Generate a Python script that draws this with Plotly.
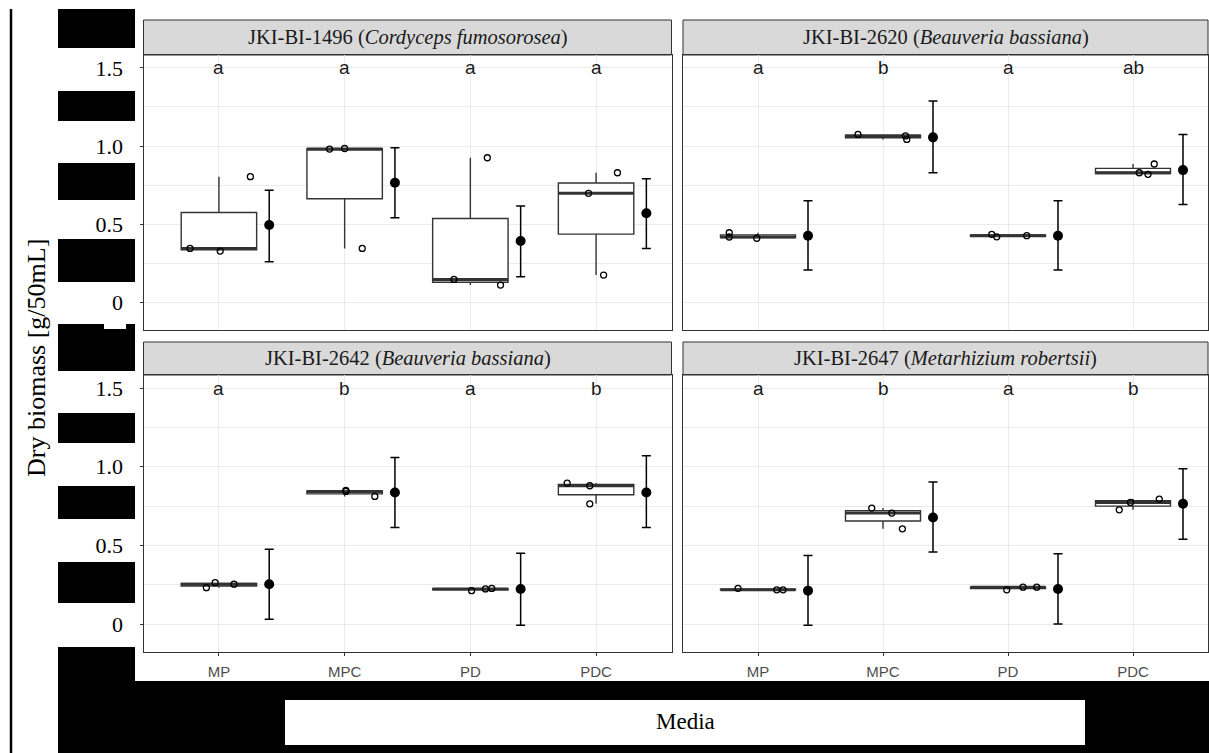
import numpy as np
import plotly.graph_objects as go

W, H = 1209, 753

media = ["MP", "MPC", "PD", "PDC"]
strain_ids = ["JKI-BI-1496", "JKI-BI-2620", "JKI-BI-2642", "JKI-BI-2647"]
species = ["Cordyceps fumosorosea", "Beauveria bassiana",
           "Beauveria bassiana", "Metarhizium robertsii"]

# dry biomass of the three replicate flasks per medium [g/50mL]
biomass_1496 = [[0.347, 0.330, 0.805], [0.981, 0.985, 0.347],
                [0.149, 0.113, 0.926], [0.699, 0.830, 0.177]]
biomass_2620 = [[0.447, 0.420, 0.412], [1.075, 1.065, 1.043],
                [0.437, 0.421, 0.428], [0.830, 0.820, 0.886]]
biomass_2642 = [[0.231, 0.263, 0.253], [0.849, 0.843, 0.811],
                [0.212, 0.223, 0.226], [0.896, 0.879, 0.764]]
biomass_2647 = [[0.227, 0.217, 0.217], [0.737, 0.705, 0.605],
                [0.217, 0.234, 0.234], [0.726, 0.773, 0.794]]

# horizontal jitter of the replicate points (category units)
jitter_1496 = [[-0.23, 0.01, 0.25], [-0.12, 0.00, 0.14],
               [-0.13, 0.24, 0.135], [-0.06, 0.17, 0.06]]
jitter_2620 = [[-0.23, -0.23, -0.01], [-0.20, 0.18, 0.19],
               [-0.13, -0.09, 0.15], [0.05, 0.12, 0.17]]
jitter_2642 = [[-0.10, -0.03, 0.12], [0.01, 0.01, 0.24],
               [0.01, 0.12, 0.17], [-0.23, -0.05, -0.05]]
jitter_2647 = [[-0.16, 0.15, 0.20], [-0.09, 0.07, 0.155],
               [-0.01, 0.12, 0.23], [-0.11, -0.02, 0.21]]

# estimated means with lower / upper confidence limits
mean_1496 = [0.496, 0.766, 0.394, 0.571]
lower_1496 = [0.262, 0.543, 0.166, 0.347]
upper_1496 = [0.718, 0.990, 0.617, 0.792]
mean_2620 = [0.428, 1.056, 0.428, 0.847]
lower_2620 = [0.209, 0.830, 0.209, 0.628]
upper_2620 = [0.651, 1.288, 0.651, 1.075]
mean_2642 = [0.253, 0.836, 0.223, 0.836]
lower_2642 = [0.030, 0.613, -0.008, 0.613]
upper_2642 = [0.476, 1.059, 0.450, 1.070]
mean_2647 = [0.212, 0.677, 0.223, 0.764]
lower_2647 = [-0.008, 0.457, 0.000, 0.539]
upper_2647 = [0.435, 0.902, 0.446, 0.987]

# compact letter display
letters_1496 = ["a", "a", "a", "a"]
letters_2620 = ["a", "b", "a", "ab"]
letters_2642 = ["a", "b", "a", "b"]
letters_2647 = ["a", "b", "a", "b"]

y_ticks = [0, 0.5, 1.0, 1.5]
y_tick_text = ["0", "0.5", "1.0", "1.5"]
letter_y = 1.5

panels = [
    (biomass_1496, jitter_1496, mean_1496, lower_1496, upper_1496, letters_1496),
    (biomass_2620, jitter_2620, mean_2620, lower_2620, upper_2620, letters_2620),
    (biomass_2642, jitter_2642, mean_2642, lower_2642, upper_2642, letters_2642),
    (biomass_2647, jitter_2647, mean_2647, lower_2647, upper_2647, letters_2647),
]

# panel rectangles in pixels: (left, right, top, bottom)
boxes = [(143.5, 671.5, 55, 330), (683, 1208, 55, 330),
         (143.5, 671.5, 375, 652), (683, 1208, 375, 652)]
strip_top = [20, 20, 342, 342]
y_ranges = [[-0.174, 1.582], [-0.174, 1.582], [-0.178, 1.583], [-0.178, 1.583]]


def px(x):
    return x / W


def py(y):
    return 1 - y / H


SERIF = "Liberation Serif"
SANS = "Liberation Sans"
EDGE = "#333333"
GRID = "#EBEBEB"

fig = go.Figure()
layout = {}
shapes = []
annotations = []

for k, (bio, jit, mean, lo, hi, lett) in enumerate(panels):
    sfx = "" if k == 0 else str(k + 1)
    xa, ya = "x" + sfx, "y" + sfx
    l, r, t, b = boxes[k]
    left_col = k in (0, 2)
    bottom_row = k in (2, 3)
    layout["xaxis" + sfx] = dict(
        domain=[px(l), px(r)], anchor=ya, range=[0.4, 4.6],
        tickvals=[1, 2, 3, 4], ticktext=media if bottom_row else [""] * 4,
        showticklabels=bottom_row, ticks="outside" if bottom_row else "",
        ticklen=3, tickwidth=1, tickcolor=EDGE,
        tickfont=dict(family=SANS, size=15, color="#4D4D4D"),
        ticklabelstandoff=3,
        showgrid=True, gridcolor=GRID, gridwidth=1, zeroline=False,
        showline=True, linecolor=EDGE, linewidth=1, mirror=True, fixedrange=True,
    )
    layout["yaxis" + sfx] = dict(
        domain=[py(b), py(t)], anchor=xa, range=y_ranges[k],
        tickvals=y_ticks, ticktext=y_tick_text, showticklabels=left_col,
        ticks="outside" if left_col else "", ticklen=3, tickwidth=1, tickcolor=EDGE,
        tickfont=dict(family=SERIF, size=22, color="black"),
        ticklabelstandoff=12,
        showgrid=True, gridcolor=GRID, gridwidth=1, zeroline=False,
        minor=dict(tickvals=[0.25, 0.75, 1.25], showgrid=True, gridcolor=GRID,
                   gridwidth=1, ticks=""),
        showline=True, linecolor=EDGE, linewidth=1, mirror=True, fixedrange=True,
    )

    for i in range(len(media)):
        pos = i + 1
        vals = bio[i]
        fig.add_trace(go.Box(
            x=[pos] * len(vals), y=vals, xaxis=xa, yaxis=ya,
            boxpoints=False, quartilemethod="inclusive", width=0.6,
            fillcolor="white", line=dict(color=EDGE, width=1.4),
            whiskerwidth=0, showlegend=False, hoverinfo="skip"))
        med = float(np.median(vals))
        fig.add_trace(go.Scatter(
            x=[pos - 0.3, pos + 0.3], y=[med, med], xaxis=xa, yaxis=ya,
            mode="lines", line=dict(color=EDGE, width=3),
            showlegend=False, hoverinfo="skip"))
        fig.add_trace(go.Scatter(
            x=[pos + d for d in jit[i]], y=vals, xaxis=xa, yaxis=ya,
            mode="markers",
            marker=dict(symbol="circle-open", size=6, color="black",
                        line=dict(width=1.3)),
            showlegend=False, hoverinfo="skip"))
        annotations.append(dict(
            x=pos, y=letter_y, xref=xa, yref=ya, text=lett[i], showarrow=False,
            font=dict(family=SANS, size=19, color="#1A1A1A"),
            xanchor="center", yanchor="middle"))

    fig.add_trace(go.Scatter(
        x=[p + 1.4 for p in range(len(media))], y=mean, xaxis=xa, yaxis=ya,
        mode="markers", marker=dict(size=10, color="black"),
        error_y=dict(type="data", symmetric=False,
                     array=[h - m for h, m in zip(hi, mean)],
                     arrayminus=[m - q for m, q in zip(mean, lo)],
                     width=4.5, thickness=1.5, color="black"),
        showlegend=False, hoverinfo="skip"))

    # facet strip
    st = strip_top[k]
    shapes.append(dict(type="rect", xref="paper", yref="paper",
                       x0=px(l), x1=px(r), y0=py(t), y1=py(st),
                       fillcolor="#D9D9D9", line=dict(color=EDGE, width=1),
                       layer="below"))
    annotations.append(dict(
        x=px((l + r) / 2), y=py((st + t) / 2), xref="paper", yref="paper",
        text=f"{strain_ids[k]} (<i>{species[k]}</i>)", showarrow=False,
        font=dict(family=SERIF, size=20.5, color="#1A1A1A"),
        xanchor="center", yanchor="middle"))

# black masking blocks around the axis labels
black_blocks = [(58, 135, 9, 48), (58, 135, 91, 121), (58, 135, 163, 200),
                (58, 135, 239, 282), (58, 135, 324, 371), (58, 135, 413, 443),
                (58, 135, 486, 519), (58, 135, 562, 603), (58, 135, 647, 753),
                (58, 1209, 681, 753)]
for x0, x1, y0, y1 in black_blocks:
    shapes.append(dict(type="rect", xref="paper", yref="paper",
                       x0=px(x0), x1=px(x1), y0=py(y1), y1=py(y0),
                       fillcolor="black", line=dict(width=0), layer="above"))
white_blocks = [(104, 126, 324, 329), (285, 1085, 700, 745)]
for x0, x1, y0, y1 in white_blocks:
    shapes.append(dict(type="rect", xref="paper", yref="paper",
                       x0=px(x0), x1=px(x1), y0=py(y1), y1=py(y0),
                       fillcolor="white", line=dict(width=0), layer="above"))
shapes.append(dict(type="line", xref="paper", yref="paper",
                   x0=px(11), x1=px(11), y0=py(753), y1=py(9),
                   line=dict(color="black", width=2.5), layer="above"))

annotations.append(dict(
    x=px(685), y=py(721), xref="paper", yref="paper", text="Media",
    showarrow=False, font=dict(family=SERIF, size=23, color="black"),
    xanchor="center", yanchor="middle"))
annotations.append(dict(
    x=px(36), y=py(358), xref="paper", yref="paper",
    text="Dry biomass [g/50mL]", textangle=-90, showarrow=False,
    font=dict(family=SERIF, size=26, color="black"),
    xanchor="center", yanchor="middle"))

fig.update_layout(
    width=W, height=H, margin=dict(l=0, r=0, t=0, b=0),
    paper_bgcolor="white", plot_bgcolor="white", showlegend=False,
    boxmode="overlay", shapes=shapes, annotations=annotations, **layout)

fig.write_html("out.html")
